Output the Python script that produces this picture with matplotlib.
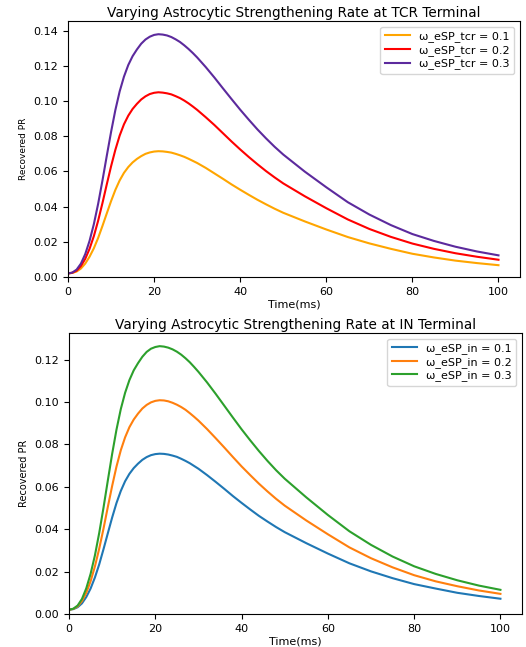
import matplotlib.pyplot as plt

# time points (ms)
t = [0, 1, 2, 3, 4, 5, 6, 7, 8, 9, 10, 11, 12, 13, 14, 15, 16, 17, 18, 19, 20,
     21, 22, 23, 24, 25, 26, 27, 28, 29, 30, 32, 34, 36, 38, 40, 42, 44, 46, 48, 50,
     55, 60, 65, 70, 75, 80, 85, 90, 95, 100]

# TCR terminal
tcr_01 = [0.0020, 0.0023, 0.0031, 0.0048, 0.0076, 0.0115, 0.0163, 0.0222, 0.0290, 0.0361,
          0.0431, 0.0495, 0.0549, 0.0592, 0.0625, 0.0651, 0.0671, 0.0687, 0.0700, 0.0708,
          0.0713, 0.0715, 0.0714, 0.0711, 0.0707, 0.0700, 0.0692, 0.0683, 0.0672, 0.0660,
          0.0648, 0.0620, 0.0589, 0.0558, 0.0526, 0.0496, 0.0467, 0.0439, 0.0413, 0.0388,
          0.0365, 0.0316, 0.0270, 0.0227, 0.0191, 0.0160, 0.0132, 0.0111, 0.0093, 0.0079,
          0.0067]
tcr_02 = [0.0020, 0.0024, 0.0036, 0.0062, 0.0103, 0.0160, 0.0232, 0.0320, 0.0420, 0.0526,
          0.0629, 0.0723, 0.0804, 0.0868, 0.0917, 0.0955, 0.0984, 0.1009, 0.1027, 0.1040,
          0.1047, 0.1050, 0.1048, 0.1044, 0.1038, 0.1028, 0.1017, 0.1003, 0.0987, 0.0969,
          0.0950, 0.0908, 0.0864, 0.0817, 0.0770, 0.0725, 0.0682, 0.0641, 0.0602, 0.0566,
          0.0532, 0.0459, 0.0391, 0.0327, 0.0273, 0.0228, 0.0190, 0.0160, 0.0135, 0.0115,
          0.0098]
tcr_03 = [0.0020, 0.0025, 0.0042, 0.0076, 0.0130, 0.0205, 0.0300, 0.0416, 0.0548, 0.0688,
          0.0824, 0.0949, 0.1055, 0.1139, 0.1205, 0.1255, 0.1293, 0.1326, 0.1350, 0.1366,
          0.1376, 0.1380, 0.1378, 0.1373, 0.1364, 0.1351, 0.1336, 0.1317, 0.1296, 0.1273,
          0.1248, 0.1193, 0.1134, 0.1072, 0.1011, 0.0951, 0.0894, 0.0839, 0.0788, 0.0740,
          0.0696, 0.0599, 0.0510, 0.0425, 0.0355, 0.0295, 0.0244, 0.0205, 0.0172, 0.0145,
          0.0123]

# IN terminal
in_01 = [0.0020, 0.0023, 0.0032, 0.0050, 0.0080, 0.0120, 0.0172, 0.0234, 0.0306, 0.0381,
         0.0455, 0.0523, 0.0580, 0.0626, 0.0661, 0.0688, 0.0709, 0.0727, 0.0740, 0.0749,
         0.0754, 0.0756, 0.0755, 0.0752, 0.0747, 0.0741, 0.0732, 0.0722, 0.0711, 0.0698,
         0.0685, 0.0655, 0.0623, 0.0590, 0.0556, 0.0524, 0.0493, 0.0463, 0.0436, 0.0410,
         0.0386, 0.0334, 0.0285, 0.0239, 0.0201, 0.0169, 0.0141, 0.0120, 0.0100, 0.0085,
         0.0072]
in_02 = [0.0020, 0.0024, 0.0036, 0.0061, 0.0100, 0.0154, 0.0224, 0.0308, 0.0403, 0.0505,
         0.0604, 0.0695, 0.0772, 0.0833, 0.0881, 0.0917, 0.0945, 0.0969, 0.0986, 0.0998,
         0.1005, 0.1008, 0.1007, 0.1003, 0.0996, 0.0987, 0.0976, 0.0963, 0.0947, 0.0930,
         0.0912, 0.0872, 0.0829, 0.0785, 0.0740, 0.0696, 0.0655, 0.0615, 0.0578, 0.0543,
         0.0511, 0.0441, 0.0376, 0.0314, 0.0263, 0.0220, 0.0183, 0.0154, 0.0131, 0.0111,
         0.0095]
in_03 = [0.0020, 0.0025, 0.0040, 0.0071, 0.0121, 0.0189, 0.0276, 0.0382, 0.0502, 0.0630,
         0.0755, 0.0869, 0.0966, 0.1043, 0.1103, 0.1149, 0.1183, 0.1213, 0.1236, 0.1251,
         0.1259, 0.1263, 0.1261, 0.1256, 0.1248, 0.1237, 0.1223, 0.1206, 0.1187, 0.1165,
         0.1142, 0.1092, 0.1038, 0.0982, 0.0926, 0.0871, 0.0819, 0.0769, 0.0722, 0.0678,
         0.0638, 0.0550, 0.0467, 0.0390, 0.0326, 0.0271, 0.0225, 0.0189, 0.0159, 0.0134,
         0.0114]

fig = plt.figure(figsize=(5.26, 6.47), dpi=100)

# top panel
ax1 = fig.add_axes([0.1293, 0.5719, 0.8593, 0.3956])
ax1.plot(t, tcr_01, color="orange", lw=1.5, label="ω_eSP_tcr = 0.1")
ax1.plot(t, tcr_02, color="red", lw=1.5, label="ω_eSP_tcr = 0.2")
ax1.plot(t, tcr_03, color="#5c2a9d", lw=1.5, label="ω_eSP_tcr = 0.3")
ax1.set_xlim(0, 105)
ax1.set_ylim(0, 0.1455)
ax1.set_title("Varying Astrocytic Strengthening Rate at TCR Terminal", fontsize=9.8, pad=3)
ax1.set_xlabel("Time(ms)", fontsize=8, labelpad=2)
ax1.set_ylabel("Recovered PR", fontsize=6.5, labelpad=4)
ax1.tick_params(labelsize=8)
ax1.legend(loc="upper right", fontsize=8, handlelength=2.3, labelspacing=0.25)

# bottom panel
ax2 = fig.add_axes([0.1312, 0.051, 0.8612, 0.4343])
ax2.plot(t, in_01, color="tab:blue", lw=1.5, label="ω_eSP_in = 0.1")
ax2.plot(t, in_02, color="tab:orange", lw=1.5, label="ω_eSP_in = 0.2")
ax2.plot(t, in_03, color="tab:green", lw=1.5, label="ω_eSP_in = 0.3")
ax2.set_xlim(0, 105)
ax2.set_ylim(0, 0.1325)
ax2.set_title("Varying Astrocytic Strengthening Rate at IN Terminal", fontsize=9.8, pad=3)
ax2.set_xlabel("Time(ms)", fontsize=8, labelpad=2)
ax2.set_ylabel("Recovered PR", fontsize=7, labelpad=4)
ax2.tick_params(labelsize=8)
ax2.legend(loc="upper right", fontsize=8, handlelength=2.3, labelspacing=0.25)

fig.savefig("out.png", dpi=100)
